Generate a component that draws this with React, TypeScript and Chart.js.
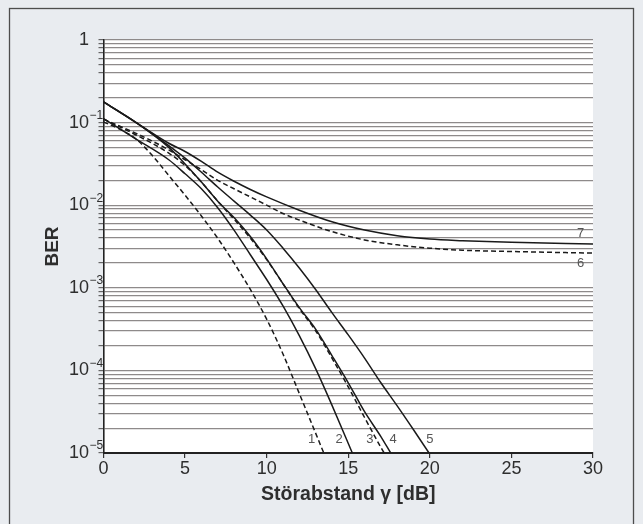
import React, { useEffect, useRef } from 'react';
import { Chart, registerables } from 'chart.js';

Chart.register(...registerables);

const FONT = "'Liberation Sans', Arial, Helvetica, sans-serif";

// x ticks (dB) and y grid values (BER)
const xTicks = [0, 5, 10, 15, 20, 25, 30];
const yDecades = [1, 0.1, 0.01, 0.001, 0.0001, 0.00001];
const yDecadeExp = ['', '−1', '−2', '−3', '−4', '−5'];
const yGrid = [
  1e-5, 2e-5, 3e-5, 4e-5, 5e-5, 6e-5, 7e-5, 8e-5, 9e-5,
  1e-4, 2e-4, 3e-4, 4e-4, 5e-4, 6e-4, 7e-4, 8e-4, 9e-4,
  1e-3, 2e-3, 3e-3, 4e-3, 5e-3, 6e-3, 7e-3, 8e-3, 9e-3,
  1e-2, 2e-2, 3e-2, 4e-2, 5e-2, 6e-2, 7e-2, 8e-2, 9e-2,
  0.1, 0.2, 0.3, 0.4, 0.5, 0.6, 0.7, 0.8, 0.9, 1,
];

// Curve 1 (dashed)
const x1 = [0, 1, 2, 3, 4, 5, 6, 7, 8, 9, 10, 11, 12, 13, 13.5];
const ber1 = [0.102, 0.0832, 0.0631, 0.0398, 0.0229, 0.0132, 0.00741, 0.00398, 0.002, 0.000955, 0.000417, 0.000158, 0.0000525, 0.0000174, 0.00001];
// Curve 2 (solid)
const x2 = [0, 2, 4, 5, 6, 7, 8, 9, 10, 11, 12, 13, 14, 15.25];
const ber2 = [0.112, 0.0631, 0.0355, 0.024, 0.0158, 0.00933, 0.005, 0.00251, 0.00126, 0.000603, 0.000263, 0.000105, 0.000038, 0.00001];
// Curve 3 (dashed)
const x3 = [0, 2, 4, 5, 6, 7, 8, 9, 10, 11, 12, 13, 14, 15, 16, 17, 17.2];
const ber3 = [0.11, 0.0708, 0.0427, 0.0302, 0.0191, 0.0112, 0.00676, 0.00398, 0.00219, 0.00112, 0.000562, 0.000302, 0.000141, 0.0000631, 0.0000269, 0.0000117, 0.00001];
// Curve 4 (solid)
const x4 = [0, 2, 4, 5, 6, 7, 8, 9, 10, 11, 12, 13, 14, 15, 16, 17, 17.6];
const ber4 = [0.178, 0.1, 0.0501, 0.0316, 0.0191, 0.0112, 0.00708, 0.00417, 0.00224, 0.00112, 0.000575, 0.000316, 0.000151, 0.0000708, 0.0000316, 0.0000158, 0.00001];
// Curve 5 (solid)
const x5 = [0, 2, 4, 5, 6, 7, 8, 9, 10, 11, 12, 13, 14, 15, 16, 17, 18, 19, 19.95];
const ber5 = [0.178, 0.1, 0.0525, 0.0372, 0.0251, 0.0166, 0.0112, 0.00759, 0.00501, 0.00302, 0.00174, 0.000955, 0.000501, 0.000269, 0.000141, 0.0000708, 0.0000372, 0.0000191, 0.00001];
// Curve 6 (dashed, error floor)
const x6 = [0, 2, 4, 5, 6, 7, 8, 9, 10, 11, 12, 14, 16, 18, 20, 22, 25, 30];
const ber6 = [0.11, 0.0741, 0.0468, 0.0355, 0.0269, 0.02, 0.0158, 0.0126, 0.01, 0.00794, 0.00661, 0.00479, 0.0038, 0.00331, 0.00302, 0.00285, 0.00275, 0.00263];
// Curve 7 (solid, error floor)
const x7 = [0, 2, 4, 5, 6, 7, 8, 9, 10, 12, 14, 16, 18, 20, 22, 25, 30];
const ber7 = [0.178, 0.1, 0.0562, 0.0447, 0.0339, 0.0251, 0.0195, 0.0155, 0.0126, 0.0087, 0.0063, 0.005, 0.00427, 0.00389, 0.00372, 0.00355, 0.00339];

// Curve number labels (data coordinates)
const labelTexts = ['1', '2', '3', '4', '5', '6', '7'];
const labelX = [12.75, 14.44, 16.32, 17.75, 20.0, 29.24, 29.24];
const labelY = [0.0000144, 0.0000144, 0.0000144, 0.0000144, 0.0000144, 0.002, 0.0046];

const curveX = [x1, x2, x3, x4, x5, x6, x7];
const curveY = [ber1, ber2, ber3, ber4, ber5, ber6, ber7];
const curveDashed = [true, false, true, false, false, true, false];

const framePlugin = {
  id: 'framePlugin',
  beforeDraw(chart: any) {
    const { ctx, chartArea } = chart;
    ctx.save();
    ctx.fillStyle = '#e9ecf0';
    ctx.fillRect(0, 0, chart.width, chart.height);
    ctx.strokeStyle = '#4d4d4d';
    ctx.lineWidth = 1.3;
    ctx.strokeRect(9.5, 8.5, 624, 560);
    ctx.fillStyle = '#ffffff';
    ctx.fillRect(chartArea.left, chartArea.top, chartArea.right - chartArea.left, chartArea.bottom - chartArea.top);
    ctx.restore();
  },
  afterDraw(chart: any) {
    const { ctx } = chart;
    const ys = chart.scales.y;
    const xs = chart.scales.x;
    ctx.save();
    // y tick labels with superscripts
    ctx.fillStyle = '#2e2e2e';
    yDecades.forEach((v, i) => {
      const py = ys.getPixelForValue(v);
      ctx.font = `18px ${FONT}`;
      ctx.textAlign = 'right';
      ctx.textBaseline = 'middle';
      if (i === 0) {
        ctx.fillText('1', 89, py);
      } else {
        ctx.fillText('10', 89, py);
        ctx.font = `12px ${FONT}`;
        ctx.textAlign = 'left';
        ctx.fillText(yDecadeExp[i], 89.5, py - 7);
      }
    });
    // y axis title
    ctx.save();
    ctx.translate(53, (ys.top + ys.bottom) / 2);
    ctx.rotate(-Math.PI / 2);
    ctx.font = `bold 19px ${FONT}`;
    ctx.textAlign = 'center';
    ctx.textBaseline = 'middle';
    ctx.fillStyle = '#2e2e2e';
    ctx.fillText('BER', 0, 0);
    ctx.restore();
    // curve labels
    ctx.font = `13px ${FONT}`;
    ctx.fillStyle = '#555';
    ctx.textAlign = 'center';
    ctx.textBaseline = 'middle';
    labelTexts.forEach((t, i) => {
      ctx.fillText(t, xs.getPixelForValue(labelX[i]), ys.getPixelForValue(labelY[i]));
    });
    ctx.restore();
  },
};

export default function App() {
  const ref = useRef<HTMLCanvasElement | null>(null);
  useEffect(() => {
    if (!ref.current) return;
    const datasets = curveX.map((xs, i) => ({
      label: labelTexts[i],
      data: xs.map((x, j) => ({ x, y: curveY[i][j] })),
      borderColor: '#1a1a1a',
      borderWidth: 1.5,
      borderDash: curveDashed[i] ? [5, 3] : [],
      pointRadius: 0,
      fill: false,
      cubicInterpolationMode: 'monotone' as const,
    }));
    const chart = new Chart(ref.current, {
      type: 'line',
      data: { datasets },
      options: {
        responsive: false,
        animation: false,
        layout: { padding: { left: 98.5, right: 50, top: 40, bottom: 18 } },
        plugins: { legend: { display: false }, tooltip: { enabled: false } },
        scales: {
          x: {
            type: 'linear',
            min: 0,
            max: 30,
            afterBuildTicks: (s: any) => { s.ticks = xTicks.map((v) => ({ value: v })); },
            afterFit: (s: any) => { s.height = 53; },
            ticks: {
              color: '#2e2e2e',
              font: { family: FONT, size: 18 },
              padding: 0,
              maxRotation: 0,
              autoSkip: false,
              callback: (v: any) => String(v),
            },
            grid: { drawOnChartArea: false, drawTicks: true, tickLength: 5, color: '#333', lineWidth: 1.2 },
            border: { display: true, color: '#222', width: 2 },
            title: {
              display: true,
              text: 'Störabstand γ [dB]',
              color: '#2e2e2e',
              font: { family: FONT, size: 19.5, weight: 'bold' },
              padding: { top: 4, bottom: 0 },
            },
          },
          y: {
            type: 'logarithmic',
            min: 0.00001,
            max: 1,
            afterBuildTicks: (s: any) => { s.ticks = yGrid.map((v) => ({ value: v })); },
            afterFit: (s: any) => { s.width = 5; },
            ticks: { display: false },
            grid: { color: '#8e8a8a', lineWidth: 1.2, drawTicks: true, tickLength: 5, tickColor: '#666' },
            border: { display: true, color: '#222', width: 1.6 },
          },
        },
      },
      plugins: [framePlugin],
    });
    return () => chart.destroy();
  }, []);
  return (
    <div style={{ position: 'absolute', left: 0, top: 0, width: 643, height: 524 }}>
      <canvas ref={ref} width={643} height={524} />
    </div>
  );
}
